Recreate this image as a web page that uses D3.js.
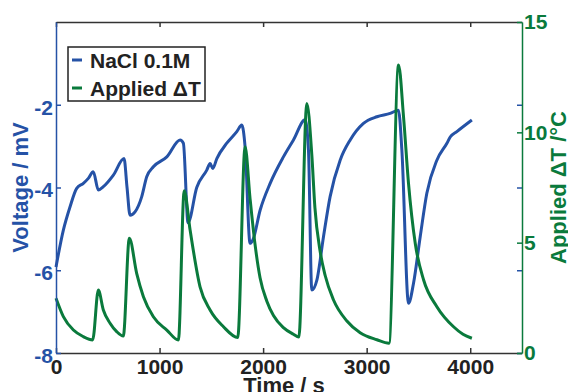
<!DOCTYPE html>
<html>
<head>
<meta charset="utf-8">
<script src="https://cdn.jsdelivr.net/npm/d3@7/dist/d3.min.js"></script>
<style>
  html, body { margin: 0; padding: 0; background: #fff; }
  svg { display: block; font-family: "Liberation Sans", Arial, sans-serif; font-weight: bold; }
</style>
</head>
<body>
<div id="chart"></div>
<script>
const voltageTime = [0, 71, 135, 200, 264, 312, 360, 409, 457, 554, 657, 686, 715, 763, 828, 876, 940, 1070, 1198,
  1230, 1275, 1359, 1456, 1488, 1514, 1553, 1649, 1746, 1794, 1826, 1874, 1901, 1971, 2068, 2196, 2293, 2406,
  2438, 2470, 2519, 2583, 2647, 2744, 2841, 2969, 3099, 3227, 3307, 3340, 3404, 3452, 3517, 3581, 3678, 3775,
  3807, 3871, 4016];
const voltage = [-5.92, -5.03, -4.47, -4.02, -3.90, -3.78, -3.62, -4.06, -3.98, -3.70, -3.30, -4.0, -4.67, -4.59,
  -4.22, -3.74, -3.50, -3.26, -2.85, -2.93, -4.85, -4.0, -3.58, -3.42, -3.54, -3.30, -2.93, -2.65, -2.49, -3.02,
  -5.35, -5.27, -4.55, -3.90, -3.26, -2.85, -2.36, -3.1, -6.48, -6.24, -5.19, -4.22, -3.34, -2.85, -2.45, -2.29,
  -2.21, -2.13, -3.10, -6.80, -6.32, -5.19, -4.14, -3.34, -2.93, -2.78, -2.65, -2.37];

const deltaTTime = [0, 71, 168, 264, 354, 409, 457, 522, 586, 650, 708, 779, 844, 940, 1070, 1182, 1238, 1295,
  1391, 1488, 1617, 1755, 1826, 1874, 1920, 1971, 2036, 2100, 2196, 2293, 2345, 2422, 2470, 2500, 2551, 2600,
  2680, 2809, 2937, 3099, 3215, 3308, 3356, 3404, 3469, 3550, 3678, 3839, 3930, 4016];
const deltaT = [2.48, 1.65, 1.04, 0.74, 0.59, 2.85, 1.95, 1.35, 0.97, 0.77, 5.20, 3.61, 2.55, 1.64, 1.04, 0.59,
  7.35, 5.57, 3.00, 1.95, 1.19, 0.70, 9.35, 7.0, 5.0, 3.4, 2.35, 1.7, 1.15, 0.85, 0.72, 11.31, 9.0, 6.6, 4.6,
  3.5, 2.4, 1.45, 0.92, 0.60, 0.44, 13.05, 10.7, 7.69, 4.97, 3.31, 2.10, 1.19, 0.85, 0.67];

const xTicks = [0, 1000, 2000, 3000, 4000];
const voltageTicks = [-8, -6, -4, -2];
const deltaTTicks = [0, 5, 10, 15];
const legendLabels = ['NaCl 0.1M', 'Applied \u0394T'];

const width = 568;
const height = 392;
const margin = {top: 22, right: 46, bottom: 39, left: 56};
const blue = '#2552a6';
const green = '#0a7a3c';
const axisGray = '#333';

const svg = d3.select('#chart').append('svg')
  .attr('width', width)
  .attr('height', height);

const x = d3.scaleLinear().domain([0, 4500]).range([margin.left, width - margin.right]);
const yLeft = d3.scaleLinear().domain([-8, 0]).range([height - margin.bottom, margin.top]);
const yRight = d3.scaleLinear().domain([0, 15]).range([height - margin.bottom, margin.top]);

const voltageData = voltageTime.map((t, i) => [t, voltage[i]]);
const deltaTData = deltaTTime.map((t, i) => [t, deltaT[i]]);

const voltageLine = d3.line().x(d => x(d[0])).y(d => yLeft(d[1])).curve(d3.curveMonotoneX);
const deltaTLine = d3.line().x(d => x(d[0])).y(d => yRight(d[1])).curve(d3.curveMonotoneX);

svg.append('path')
  .datum(voltageData)
  .attr('fill', 'none')
  .attr('stroke', blue)
  .attr('stroke-width', 3)
  .attr('stroke-linejoin', 'round')
  .attr('d', voltageLine);

svg.append('path')
  .datum(deltaTData)
  .attr('fill', 'none')
  .attr('stroke', green)
  .attr('stroke-width', 3)
  .attr('stroke-linejoin', 'round')
  .attr('d', deltaTLine);

// axes, ticks point inward like the original
const bottomAxis = svg.append('g')
  .attr('transform', `translate(0,${height - margin.bottom})`)
  .call(d3.axisBottom(x).tickValues(xTicks).tickFormat(d => String(d)).tickSizeInner(-5).tickSizeOuter(0).tickPadding(6));
const topAxis = svg.append('g')
  .attr('transform', `translate(0,${margin.top})`)
  .call(d3.axisTop(x).tickValues(xTicks).tickFormat('').tickSizeInner(-5).tickSizeOuter(0));
[bottomAxis, topAxis].forEach(g => {
  g.selectAll('path, line').attr('stroke', axisGray).attr('stroke-width', 1.5);
  g.selectAll('text').attr('fill', '#222').attr('font-size', 21).attr('font-family', null);
});

const leftAxis = svg.append('g')
  .attr('transform', `translate(${margin.left},0)`)
  .call(d3.axisLeft(yLeft).tickValues(voltageTicks).tickFormat(d => String(d)).tickSizeInner(-5).tickSizeOuter(0).tickPadding(3));
leftAxis.selectAll('path, line').attr('stroke', blue).attr('stroke-width', 1.5);
leftAxis.selectAll('text').attr('fill', blue).attr('font-size', 21).attr('font-family', null).attr('dy', '0.45em');

const rightBlue = svg.append('g')
  .attr('transform', `translate(${width - margin.right},0)`)
  .call(d3.axisRight(yLeft).tickValues(voltageTicks).tickFormat('').tickSizeInner(-5).tickSizeOuter(0));
rightBlue.select('.domain').remove();
rightBlue.selectAll('line').attr('stroke', blue).attr('stroke-width', 1.5);

const rightAxis = svg.append('g')
  .attr('transform', `translate(${width - margin.right},0)`)
  .call(d3.axisRight(yRight).tickValues(deltaTTicks).tickSizeInner(-5).tickSizeOuter(0).tickPadding(2));
rightAxis.selectAll('path, line').attr('stroke', green).attr('stroke-width', 1.5);
rightAxis.selectAll('text').attr('fill', green).attr('font-size', 21).attr('font-family', null);

svg.append('text')
  .attr('transform', `translate(28,${(margin.top + height - margin.bottom) / 2}) rotate(-90)`)
  .attr('text-anchor', 'middle')
  .attr('fill', blue)
  .attr('font-size', 22)
  .text('Voltage / mV');

svg.append('text')
  .attr('transform', `translate(550,${(margin.top + height - margin.bottom) / 2}) rotate(-90)`)
  .attr('text-anchor', 'middle')
  .attr('dy', '0.72em')
  .attr('fill', green)
  .attr('font-size', 22)
  .text('Applied \u0394T /\u00b0C');

svg.append('text')
  .attr('x', width / 2)
  .attr('y', 393)
  .attr('text-anchor', 'middle')
  .attr('fill', '#222')
  .attr('font-size', 22)
  .text('Time / s');

const legend = svg.append('g').attr('transform', 'translate(68,47)');
legend.append('rect')
  .attr('width', 137)
  .attr('height', 54)
  .attr('fill', '#fff')
  .attr('stroke', '#222')
  .attr('stroke-width', 1.5);
const legendColors = [blue, green];
legendLabels.forEach((label, i) => {
  const row = legend.append('g').attr('transform', `translate(0,${13 + i * 28})`);
  row.append('line')
    .attr('x1', 4).attr('x2', 14)
    .attr('stroke', legendColors[i])
    .attr('stroke-width', 3);
  row.append('text')
    .attr('x', 22)
    .attr('dy', '0.36em')
    .attr('fill', '#222')
    .attr('font-size', 21)
    .text(label);
});
</script>
</body>
</html>
